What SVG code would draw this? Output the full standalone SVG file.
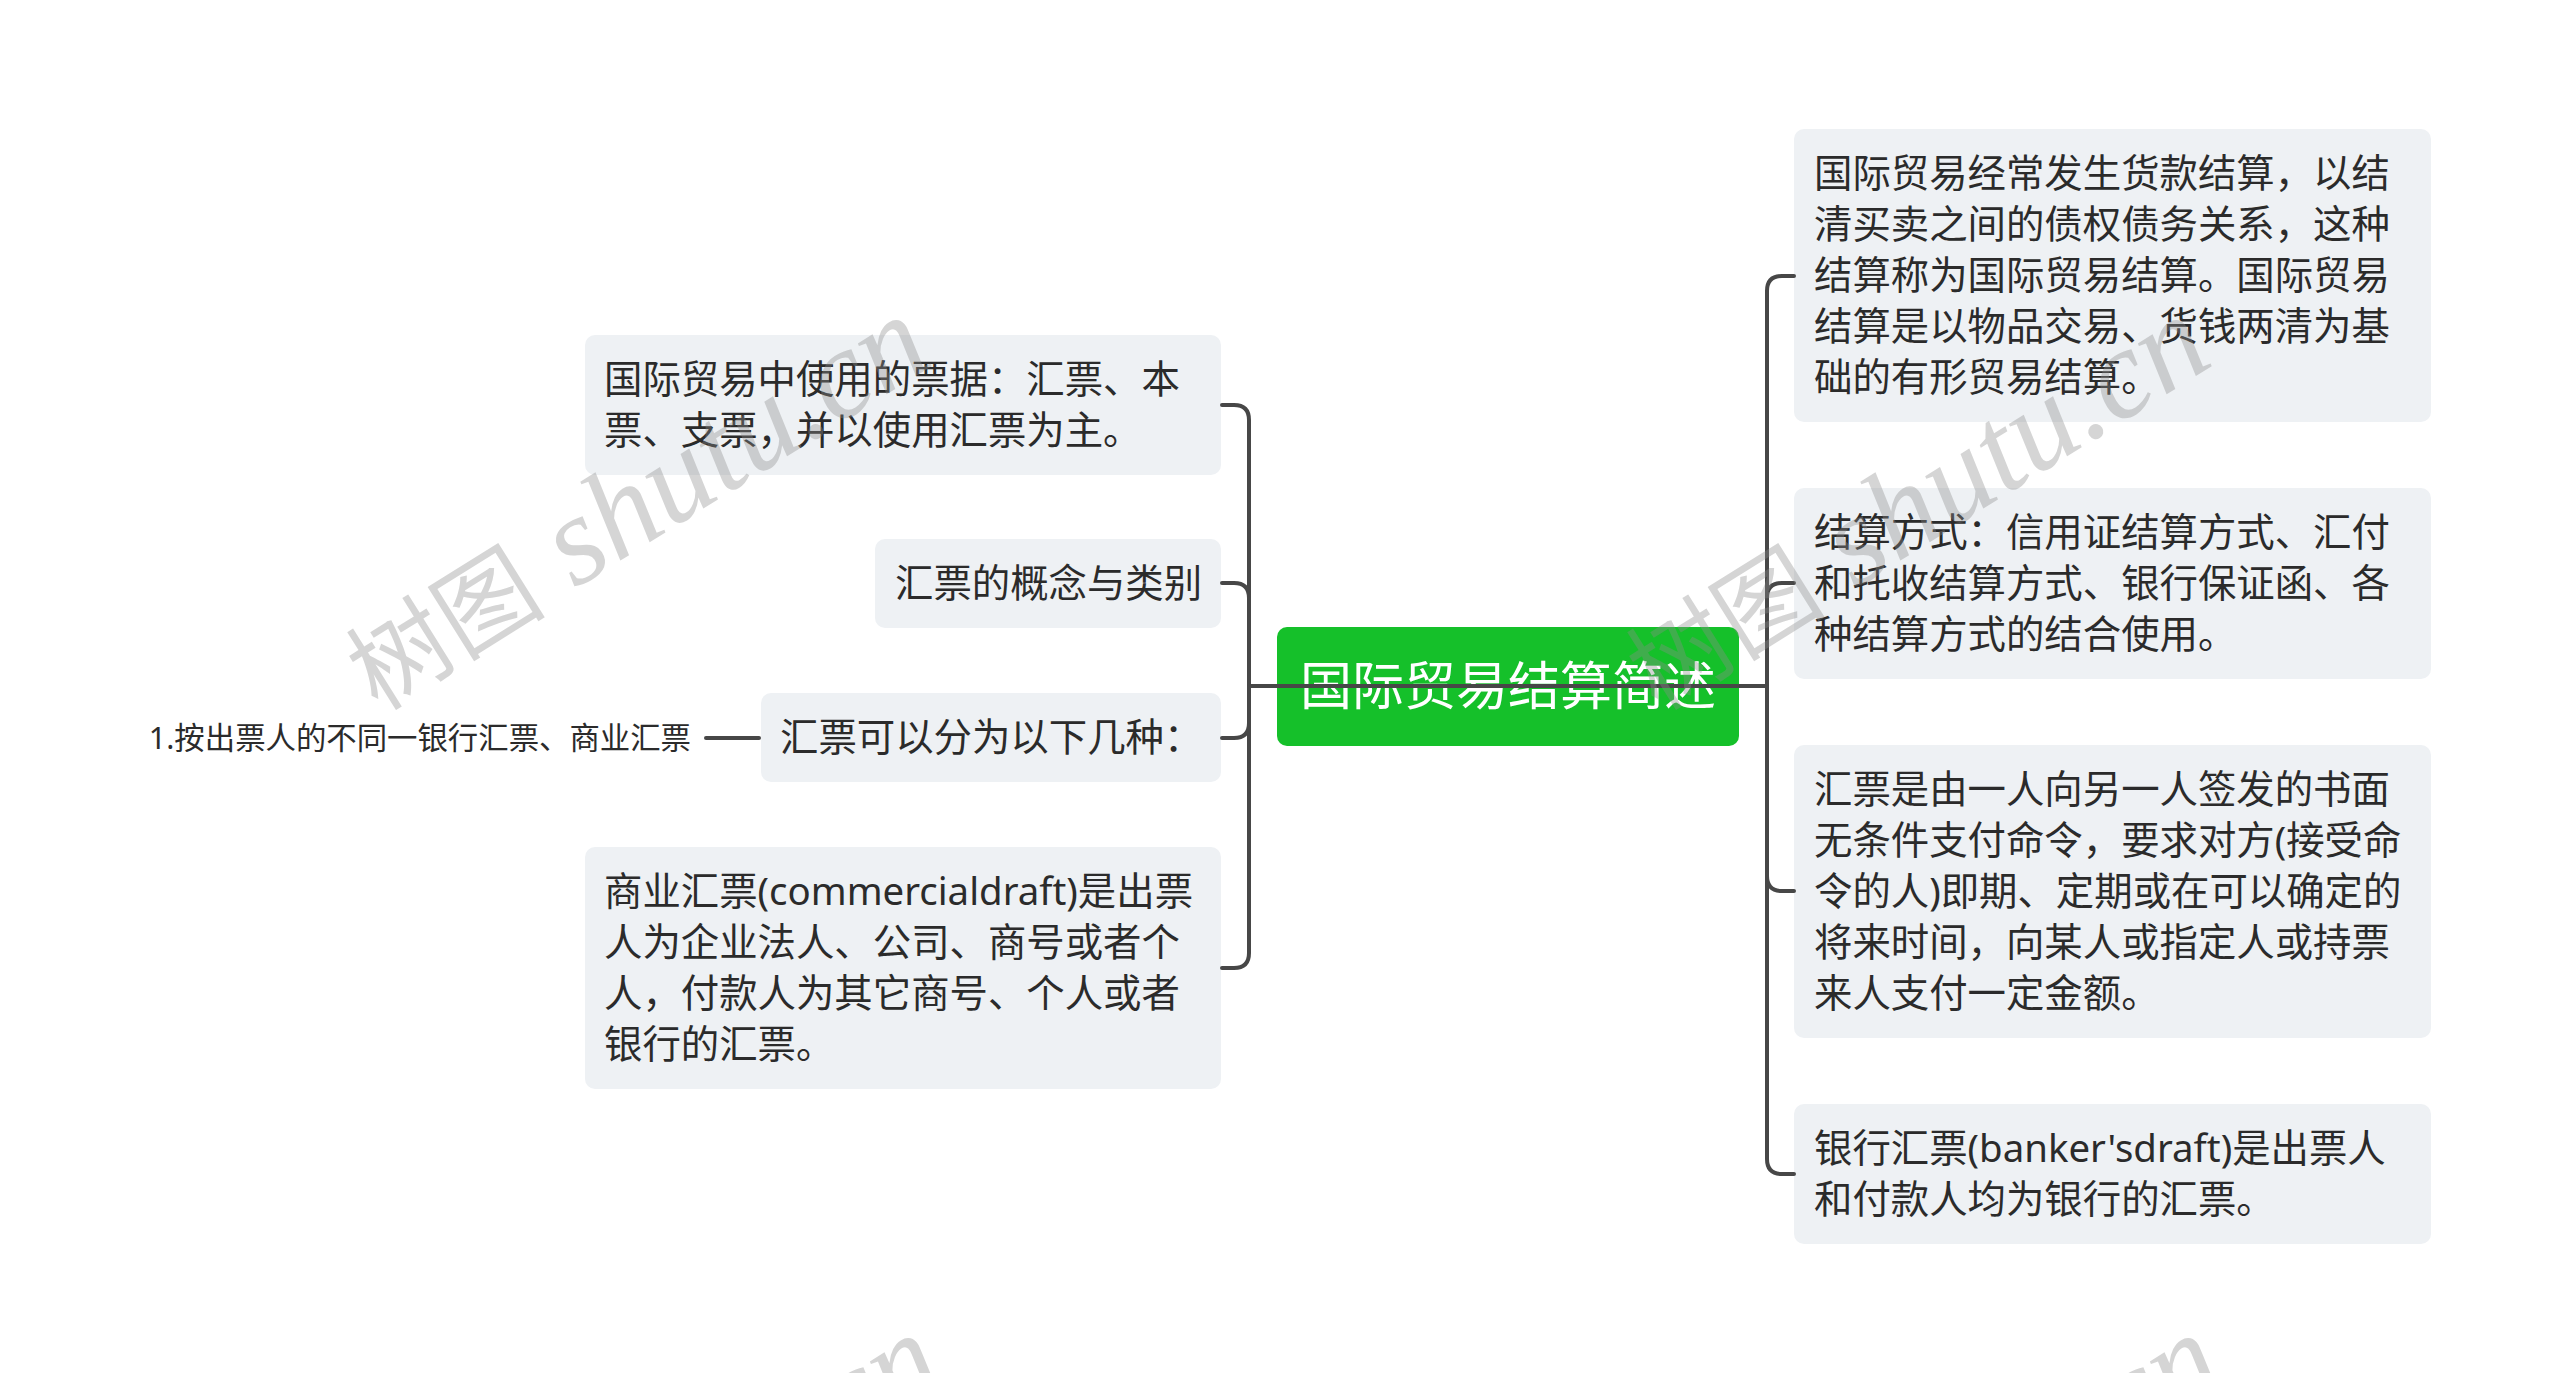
<svg xmlns="http://www.w3.org/2000/svg" width="2560" height="1373" viewBox="0 0 2560 1373">
<style>
.bg{fill:#ffffff}
.box{fill:#EEF1F4}
.root{fill:#15C02A}
.t{font-family:"Noto Sans","Noto Sans CJK SC",sans-serif;font-size:38.4px;fill:#2b2b2b}
.rt{font-family:"Noto Sans","Noto Sans CJK SC",sans-serif;font-size:52px;fill:#ffffff;text-anchor:middle}
.sm{font-family:"Noto Sans","Noto Sans CJK SC",sans-serif;font-size:30.4px;fill:#2b2b2b;text-anchor:end}
.ln{fill:none;stroke:#474747;stroke-width:4;stroke-linecap:round}
.wm{font-family:"Liberation Serif",serif;font-style:italic;font-size:127px;fill:#8c8c8c;opacity:0.36}
.wmc{font-family:"Noto Sans CJK SC",sans-serif;font-style:normal;font-size:100px}
</style>
<rect class="bg" x="0" y="0" width="2560" height="1373"/>

<g id="node-root">
<rect class="root" x="1277" y="627" width="462" height="119" rx="10"/>
<text class="rt" x="1508" y="705">国际贸易结算简述</text>
</g>

<g id="node-l1">
<rect class="box" x="585" y="335" width="636" height="140" rx="10"/>
<text class="t" x="604" y="393">国际贸易中使用的票据：汇票、本</text>
<text class="t" x="604" y="444">票、支票，并以使用汇票为主。</text>
</g>

<g id="node-l2">
<rect class="box" x="875" y="539" width="346" height="89" rx="10"/>
<text class="t" x="895" y="597">汇票的概念与类别</text>
</g>

<g id="node-l3">
<rect class="box" x="761" y="693" width="460" height="89" rx="10"/>
<text class="t" x="780" y="751">汇票可以分为以下几种：</text>
</g>

<g id="node-l3a">
<text class="sm" x="691" y="749">1.按出票人的不同一银行汇票、商业汇票</text>
</g>

<g id="node-l4">
<rect class="box" x="585" y="847" width="636" height="242" rx="10"/>
<text class="t" x="604" y="905">商业汇票(commercialdraft)是出票</text>
<text class="t" x="604" y="956">人为企业法人、公司、商号或者个</text>
<text class="t" x="604" y="1007">人，付款人为其它商号、个人或者</text>
<text class="t" x="604" y="1058">银行的汇票。</text>
</g>

<g id="node-r1">
<rect class="box" x="1794" y="129" width="637" height="293" rx="10"/>
<text class="t" x="1814" y="187">国际贸易经常发生货款结算，以结</text>
<text class="t" x="1814" y="238">清买卖之间的债权债务关系，这种</text>
<text class="t" x="1814" y="289">结算称为国际贸易结算。国际贸易</text>
<text class="t" x="1814" y="340">结算是以物品交易、货钱两清为基</text>
<text class="t" x="1814" y="391">础的有形贸易结算。</text>
</g>

<g id="node-r2">
<rect class="box" x="1794" y="488" width="637" height="191" rx="10"/>
<text class="t" x="1814" y="546">结算方式：信用证结算方式、汇付</text>
<text class="t" x="1814" y="597">和托收结算方式、银行保证函、各</text>
<text class="t" x="1814" y="648">种结算方式的结合使用。</text>
</g>

<g id="node-r3">
<rect class="box" x="1794" y="745" width="637" height="293" rx="10"/>
<text class="t" x="1814" y="803">汇票是由一人向另一人签发的书面</text>
<text class="t" x="1814" y="854">无条件支付命令，要求对方(接受命</text>
<text class="t" x="1814" y="905">令的人)即期、定期或在可以确定的</text>
<text class="t" x="1814" y="956">将来时间，向某人或指定人或持票</text>
<text class="t" x="1814" y="1007">来人支付一定金额。</text>
</g>

<g id="node-r4">
<rect class="box" x="1794" y="1104" width="637" height="140" rx="10"/>
<text class="t" x="1814" y="1162">银行汇票(banker'sdraft)是出票人</text>
<text class="t" x="1814" y="1213">和付款人均为银行的汇票。</text>
</g>

<g id="connectors">
<path class="ln" d="M1249,686 H1767"/>
<path class="ln" d="M1249,686 V420 Q1249,405 1234,405 H1222"/>
<path class="ln" d="M1249,686 V598 Q1249,583 1234,583 H1222"/>
<path class="ln" d="M1249,686 V723 Q1249,738 1234,738 H1222"/>
<path class="ln" d="M1249,686 V953 Q1249,968 1234,968 H1222"/>
<path class="ln" d="M1767,686 V291 Q1767,276 1782,276 H1794"/>
<path class="ln" d="M1767,686 V598 Q1767,583 1782,583 H1794"/>
<path class="ln" d="M1767,686 V876 Q1767,891 1782,891 H1794"/>
<path class="ln" d="M1767,686 V1159 Q1767,1174 1782,1174 H1794"/>
<path class="ln" d="M759,738 H706"/>
</g>

<g id="watermarks">
<text class="wm" transform="translate(378,712) rotate(-32)"><tspan class="wmc">树图</tspan> shutu.cn</text>
<text class="wm" transform="translate(1658,712) rotate(-32)"><tspan class="wmc">树图</tspan> shutu.cn</text>
<text class="wm" transform="translate(390,1730) rotate(-32)"><tspan class="wmc">树图</tspan> shutu.cn</text>
<text class="wm" transform="translate(1670,1730) rotate(-32)"><tspan class="wmc">树图</tspan> shutu.cn</text>
</g>
</svg>
